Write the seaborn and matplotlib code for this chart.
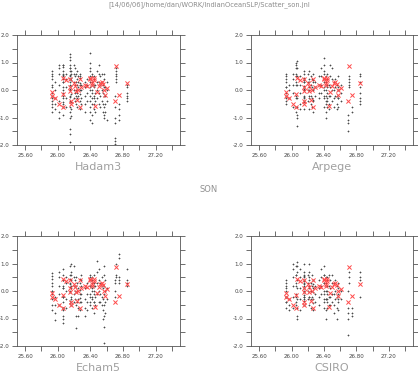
import numpy as np
import pandas as pd
import matplotlib
matplotlib.use("Agg")
import matplotlib.pyplot as plt
import seaborn as sns
from matplotlib.ticker import MultipleLocator, FormatStrFormatter

# --- Data ---
header = "[14/06/06]/home/dan/WORK/IndianOceanSLP/Scatter_son.jnl"
season = "SON"
models = ["Hadam3", "Arpege", "Echam5", "CSIRO"]

# observed SST (x) and SLP anomaly (y), same in every panel
obs_sst = [25.93, 25.93, 25.97, 26.02, 26.06, 26.06, 26.07, 26.10, 26.15, 26.15,
           26.15, 26.16, 26.16, 26.20, 26.21, 26.22, 26.24, 26.25, 26.27, 26.27,
           26.29, 26.34, 26.36, 26.40, 26.40, 26.42, 26.42, 26.44, 26.44, 26.46,
           26.48, 26.50, 26.52, 26.54, 26.56, 26.57, 26.58, 26.61, 26.70, 26.71,
           26.75, 26.85]
obs_slp = [-0.08, -0.21, -0.30, -0.51, -0.63, -0.15, 0.42, 0.36, 0.10, -0.02,
           0.40, -0.39, -0.51, 0.24, 0.16, -0.04, -0.36, 0.00, 0.39, -0.63,
           0.12, 0.18, 0.16, 0.39, 0.42, 0.24, 0.18, 0.42, 0.36, -0.57,
           -0.06, 0.15, 0.24, 0.28, 0.21, 0.00, -0.18, 0.08, -0.39, 0.87,
           -0.18, 0.27]

# model ensemble members, one list per observed SST column
hadam3 = [
    [0.7, 0.6, 0.4, 0.2, -0.1, -0.3, -0.5, -0.8], [0.5, 0.1, -0.2, -0.4, -0.6],
    [0.3, 0.0, -0.3, -0.5, -0.7], [0.9, 0.8, 0.6, 0.2, -0.4, -0.8, -1.0],
    [0.9, 0.7, 0.5, 0.3, 0.0, -0.2, -0.5, -0.9], [0.6, 0.4, 0.1, -0.3, -0.6],
    [0.9, 0.85, 0.55, 0.3, -0.1, -0.45], [0.6, 0.4, 0.1, -0.3, -0.6],
    [1.3, 1.1, 0.9, 0.7, 0.5, 0.2, -0.2, -0.6, -1.0, -1.4, -1.6, -1.9],
    [0.8, 0.55, 0.3, 0.05, -0.25], [1.2, 0.8, 0.4, 0.0, -0.4, -0.8],
    [0.6, 0.35, 0.15, -0.15, -0.45], [0.7, 0.45, -0.7, -0.95],
    [0.9, 0.6, 0.3, 0.0, -0.3], [0.8, 0.5, 0.2, -0.1, -0.4],
    [0.6, 0.3, 0.0, -0.2, -0.5], [0.7, 0.4, 0.2, -0.1, -0.3, -0.6],
    [0.5, 0.3, 0.1, -0.2], [0.6, 0.5, 0.2, 0.0, -0.4, -0.7], [0.45, 0.25, -0.15],
    [0.2, 0.0, -0.3, -0.5], [0.3, 0.1, -0.2, -0.5, -0.8], [0.4, 0.2, -0.1, -0.4],
    [1.35, 1.0, 0.8, 0.5, 0.3, 0.0, -0.4, -0.8, -1.1], [0.7, 0.4, 0.1, -0.2, -0.6],
    [0.6, 0.3, 0.0, -0.3, -0.9, -1.2], [0.5, 0.2, -0.1, -0.5],
    [0.5, 0.2, -0.2, -0.5], [0.4, 0.1, -0.3, -0.7], [0.2, -0.1, -0.4, -0.8],
    [0.7, 0.3, 0.0, -0.3], [0.9, 0.6, 0.3, -0.1, -0.5], [0.5, 0.2, -0.2, -0.6],
    [0.6, 0.3, 0.0, -0.4], [0.2, -0.1, -0.5, -0.8],
    [0.6, 0.4, 0.1, -0.2, -0.6, -0.9, -1.0], [0.1, -0.2, -0.5, -0.8],
    [0.3, 0.0, -0.4, -1.1], [-0.2, -0.6, -1.0, -1.2, -1.75, -1.85, -1.95],
    [0.8, 0.7, 0.6, 0.5, 0.4, 0.3], [-0.5, -0.7, -0.9, -1.1],
    [0.2, 0.1, -0.1, -0.2, -0.3, -0.4],
]
arpege = [
    [0.6, 0.5, 0.4, 0.3, 0.1, -0.1, -0.3, -0.5], [0.1, -0.2, -0.4],
    [0.2, 0.0, -0.3], [0.6, 0.4, 0.2, -0.1, -0.6],
    [1.0, 0.8, 0.6, 0.3, -0.2, -0.8], [0.9, 0.5, 0.2, -0.3, -0.6],
    [1.05, 0.8, 0.5, 0.2, -0.3, -0.6, -0.9, -1.0, -1.3], [0.5, 0.2, -0.1, -0.5, -0.7],
    [0.45, 0.15, -0.25], [0.35, 0.05, -0.45], [0.6, 0.3, 0.0, -0.4],
    [0.3, 0.0, -0.3, -0.7], [0.7, 0.4, 0.1, -0.2], [0.6, 0.3, 0.0, -0.4],
    [0.3, 0.0, -0.3, -0.7], [0.7, 0.4, 0.1, -0.2], [0.5, 0.2, -0.2, -0.5],
    [0.4, 0.1, -0.3, -0.6], [0.6, 0.3, 0.0, -0.4, -0.8], [0.35, 0.05, -0.35],
    [0.3, 0.1, -0.2], [0.5, 0.2, -0.1, -0.3], [0.8, 0.5, 0.2, -0.1],
    [1.15, 0.9, 0.6, 0.3, 0.0, -0.3, -0.6], [0.7, 0.4, 0.1, -0.2],
    [0.5, 0.2, -0.2, -0.5, -0.8, -1.0], [0.3, 0.0, -0.4],
    [0.6, 0.2, -0.1, -0.4], [0.4, 0.1, -0.3, -0.6], [0.2, -0.2, -0.5, -0.7],
    [0.9, 0.5, 0.1, -0.2], [0.8, 0.4, 0.0, -0.4], [0.3, 0.0, -0.3, -0.6],
    [0.4, 0.1, -0.2], [0.2, -0.2, -0.5, -0.7], [0.5, 0.1, -0.3, -0.6],
    [0.0, -0.3], [0.2, -0.1, -0.4], [-0.9, -1.1, -1.2, -1.5],
    [0.5, 0.4, 0.3, 0.2, 0.1], [-0.6, -0.8],
    [0.6, 0.5, 0.3, 0.1, -0.1, -0.3, -0.4, -0.5],
]
echam5 = [
    [0.65, 0.55, 0.45, 0.3, 0.2, 0.0, -0.1], [0.0, -0.3, -0.5, -0.7],
    [-0.2, -0.5, -0.8, -1.05], [0.7, 0.5, 0.2, -0.1, -0.5],
    [0.4, 0.2, -0.2, -0.4, -0.7], [0.4, 0.1, -0.2, -0.6],
    [0.8, 0.6, 0.4, 0.1, -0.2, -0.6, -0.9, -1.0, -1.15], [0.5, 0.3, 0.0, -0.3, -0.6],
    [0.25, -0.05, -0.35], [0.45, 0.15, -0.45], [0.9, 0.6, 0.3, 0.0],
    [1.0, 0.7, 0.4, 0.1, -0.2], [0.6, 0.2, -0.3, -0.5], [0.9, 0.5, 0.2, -0.1, -0.4],
    [0.4, 0.0, -0.3], [0.5, 0.2, -0.5, -0.9, -1.35], [0.3, 0.0, -0.4],
    [0.1, -0.3, -0.6, -0.9], [0.3, -0.1, -0.4, -0.7], [0.45, 0.05, -0.25],
    [0.6, 0.4, 0.2, -0.1, -0.4], [0.1, -0.3, -0.6, -0.9], [0.3, -0.1, -0.4, -0.7],
    [0.6, 0.4, 0.2, -0.1, -0.4], [0.5, 0.2, -0.2, -0.5],
    [0.5, 0.3, 0.0, -0.3, -0.6], [0.4, 0.1, -0.2], [0.3, 0.0, -0.4, -0.8],
    [0.6, 0.2, -0.1, -0.4], [0.2, -0.2, -0.5], [1.1, 0.7, 0.3, -0.1],
    [0.8, 0.4, 0.0, -0.4], [0.3, -0.1, -0.4], [0.5, 0.2, -0.2, -0.5],
    [0.1, -0.3, -0.7, -1.0], [0.9, 0.6, 0.2, -0.1, -0.5, -0.9, -1.3, -1.9],
    [0.4, 0.0, -0.4, -0.8], [0.1, -0.3], [0.4, 0.3, 0.0, -0.2],
    [1.0, 0.6, 0.5], [1.35, 1.2, 0.5, 0.4, 0.3], [0.8, 0.4, 0.3, 0.2],
]
csiro = [
    [0.4, 0.3, 0.2, 0.0, -0.2, -0.4, -0.6], [0.1, -0.2, -0.4],
    [-0.3, -0.5, -0.7], [1.0, 0.8, 0.5, 0.2, -0.2, -0.6],
    [0.9, 0.6, 0.3, -0.1, -0.4], [0.6, 0.2, -0.2, -0.5],
    [1.05, 0.9, 0.7, 0.4, 0.1, -0.3, -0.6, -0.9, -1.0], [0.8, 0.5, 0.1, -0.3, -0.7],
    [0.55, 0.25, -0.15], [0.35, -0.05, -0.35], [0.6, 0.3, 0.0, -0.3],
    [1.0, 0.7, 0.4, 0.1, -0.2], [0.5, 0.2, -0.2, -0.5], [0.6, 0.3, 0.0, -0.3],
    [1.0, 0.7, 0.4, 0.1, -0.2], [0.5, 0.2, -0.2, -0.5], [0.3, 0.0, -0.3, -0.6],
    [0.6, 0.2, -0.2], [0.4, 0.1, -0.3, -0.7], [0.25, -0.05, -0.45],
    [0.2, -0.1, -0.4], [0.4, 0.1, -0.2, -0.5], [0.8, 0.5, 0.2, -0.1],
    [0.9, 0.6, 0.3, 0.0, -0.3, -0.6], [0.6, 0.3, -0.1, -0.4],
    [0.5, 0.2, -0.3, -0.7, -1.0], [0.3, 0.0, -0.3], [0.5, 0.2, -0.1, -0.4],
    [0.4, 0.0, -0.3, -0.6], [0.6, 0.2, -0.2, -0.5], [0.4, 0.1, -0.2, -0.5],
    [0.6, 0.3, -0.1, -0.4], [0.3, -0.1, -0.5, -0.8], [0.4, 0.0, -0.3],
    [0.2, -0.2, -0.6, -1.0], [0.3, -0.1, -0.4, -0.7], [0.1, -0.3],
    [0.0, -0.3], [0.0, -0.6, -0.8, -1.0, -1.6], [0.7, 0.5, 0.3],
    [-0.6, -0.8, -0.9], [0.7, 0.5, 0.4, -0.2],
]
members = {"Hadam3": hadam3, "Arpege": arpege, "Echam5": echam5, "CSIRO": csiro}

# --- Build tables ---
obs = pd.DataFrame({"sst": obs_sst, "slp": obs_slp})
rows = []
for name, cols in members.items():
    for sst, vals in zip(obs_sst, cols):
        for v in vals:
            rows.append((name, sst, v))
ens = pd.DataFrame(rows, columns=["model", "sst", "slp"])

# --- Figure ---
sns.set_style("white")
W, H = 418, 373
fig = plt.figure(figsize=(W / 100, H / 100), dpi=100)

# panel boxes in pixels: left, top, right, bottom
boxes = {
    "Hadam3": (17, 35, 180, 145),
    "Arpege": (251, 35, 413, 145),
    "Echam5": (17, 236, 180, 346),
    "CSIRO": (251, 236, 413, 346),
}
label_y = {"Hadam3": 167, "Arpege": 167, "Echam5": 368, "CSIRO": 368}

for name in models:
    l, t, r, b = boxes[name]
    ax = fig.add_axes([l / W, 1 - b / H, (r - l) / W, (b - t) / H])
    sns.scatterplot(data=ens[ens.model == name], x="sst", y="slp", ax=ax,
                    marker="+", s=2.5, linewidth=0.5, color="#4a4a4a", legend=False)
    sns.scatterplot(data=obs, x="sst", y="slp", ax=ax,
                    marker="x", s=9, linewidth=0.7, color="#ff4a4a", legend=False)
    ax.set_xlim(25.5, 27.5)
    ax.set_ylim(-2.0, 2.0)
    ax.xaxis.set_minor_locator(MultipleLocator(0.2))
    ax.yaxis.set_major_locator(MultipleLocator(1.0))
    ax.yaxis.set_minor_locator(MultipleLocator(0.5))
    ax.set_xticks([25.6, 26.0, 26.4, 26.8, 27.2])
    ax.xaxis.set_major_formatter(FormatStrFormatter("%.2f"))
    ax.yaxis.set_major_formatter(FormatStrFormatter("%.1f"))
    ax.tick_params(which="both", direction="out", length=3.5, width=0.6,
                   color="#555555", top=True, right=True, bottom=True, left=True,
                   labelsize=4, labelcolor="#444444", pad=2)
    ax.set_xlabel("")
    ax.set_ylabel("")
    for sp in ax.spines.values():
        sp.set_linewidth(0.6)
        sp.set_color("#555555")
    fig.text((l + r) / 2 / W, 1 - label_y[name] / H, name, ha="center", va="center",
             fontsize=8, color="#a0a0a0")

fig.text(0.5, 1 - 5 / H, header, ha="center", va="center", fontsize=4.8, color="#8a8a8a")
fig.text(0.5, 1 - 190 / H, season, ha="center", va="center", fontsize=6, color="#909090")

fig.savefig("out.png", dpi=100)
